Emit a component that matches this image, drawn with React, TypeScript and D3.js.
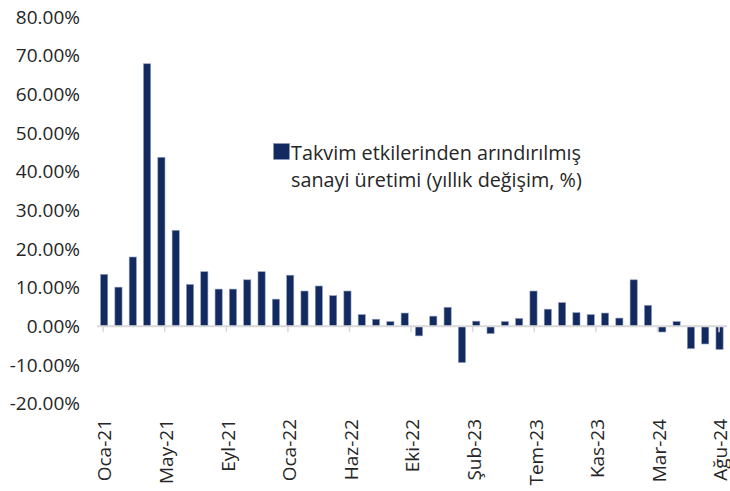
import React from "react";
import * as d3 from "d3";

const MONTHS = ["Oca", "Şub", "Mar", "Nis", "May", "Haz", "Tem", "Ağu", "Eyl", "Eki", "Kas", "Ara"];
const YEARS = ["21", "22", "23", "24"];

// Jan 2021 .. Aug 2024 (44 months)
const categories: string[] = [];
YEARS.forEach((yr, yi) => {
  MONTHS.forEach((m, mi) => {
    if (yi === 3 && mi > 7) return;
    categories.push(`${m}-${yr}`);
  });
});

const values: number[] = [
  13.4, 10.1, 17.9, 67.9, 43.7, 24.8, 10.8, 14.1, 9.6, 9.6, 12.0, 14.1,
  7.0, 13.2, 9.1, 10.4, 7.9, 9.1, 3.0, 1.8, 1.2, 3.4, -2.5, 2.6,
  4.9, -9.4, 1.3, -1.9, 1.2, 2.0, 9.1, 4.4, 6.1, 3.5, 3.0, 3.4,
  2.1, 12.0, 5.4, -1.5, 1.2, -5.8, -4.6, -6.0,
];

const xTickLabels: string[] = [
  "Oca-21", "May-21", "Eyl-21", "Oca-22", "Haz-22", "Eki-22",
  "Şub-23", "Tem-23", "Kas-23", "Mar-24", "Ağu-24",
];

const yTicks: number[] = [80, 70, 60, 50, 40, 30, 20, 10, 0, -10, -20];

const legendLines: string[] = [
  "Takvim etkilerinden arındırılmış",
  "sanayi üretimi (yıllık değişim, %)",
];

const W = 730;
const H = 491;
const BAR = "#122a60";
const FONT = "'Open Sans', 'Noto Sans', sans-serif";
const FS = 19;
const LFS = 19.8;

export default function App() {
  const x = d3
    .scaleBand<string>()
    .domain(categories)
    .range([97, 726.7])
    .paddingInner(0.5)
    .paddingOuter(0.25);
  const y = d3.scaleLinear().domain([-20, 80]).range([403.5, 17]);
  const bw = x.bandwidth();
  const c0 = (x(categories[0]) as number) + bw / 2;
  const cN = (x(categories[categories.length - 1]) as number) + bw / 2;
  const tickX = (k: number) => c0 - 1 + (k * (cN + 0.5 - c0)) / (xTickLabels.length - 1);
  const y0 = y(0);

  return (
    <svg
      width={W}
      height={H}
      style={{ position: "absolute", left: 0, top: 0, background: "#fff" }}
      fontFamily={FONT}
    >
      <rect x={0} y={0} width={W} height={H} fill="#fff" />
      {/* y tick labels */}
      {yTicks.map((t) => (
        <text
          key={t}
          x={80}
          y={y(t)}
          dy="0.36em"
          textAnchor="end"
          fontSize={FS}
          fill="#262626"
        >
          {`${t.toFixed(2)}%`}
        </text>
      ))}
      {/* bars */}
      {values.map((v, i) => {
        const bx = x(categories[i]) as number;
        const top = Math.min(y(v), y0);
        const h = Math.abs(y(v) - y0);
        return (
          <rect
            key={categories[i]}
            x={bx}
            y={top}
            width={bw}
            height={h}
            fill={BAR}
            stroke="#8d9bb9"
            strokeWidth={0.6}
          />
        );
      })}
      {/* zero axis line */}
      <line x1={97} x2={727} y1={y0} y2={y0} stroke="#d9d9d9" strokeWidth={2} />
      {/* ticks and labels */}
      {xTickLabels.map((lab, k) => {
        const tx = tickX(k);
        return (
          <g key={lab}>
            <line x1={tx} x2={tx} y1={y0} y2={y0 + 6} stroke="#d9d9d9" strokeWidth={1.5} />
            <text
              transform={`translate(${tx + 1.5},419) rotate(-90)`}
              textAnchor="end"
              dy="0.36em"
              fontSize={FS}
              fill="#262626"
            >
              {lab}
            </text>
          </g>
        );
      })}
      {/* legend */}
      <rect x={273.5} y={143.5} width={16} height={16} fill={BAR} stroke="#8d9bb9" strokeWidth={0.6} />
      {legendLines.map((l, i) => (
        <text key={i} x={291} y={159.5 + i * 27.3} fontSize={LFS} fill="#262626">
          {l}
        </text>
      ))}
    </svg>
  );
}
